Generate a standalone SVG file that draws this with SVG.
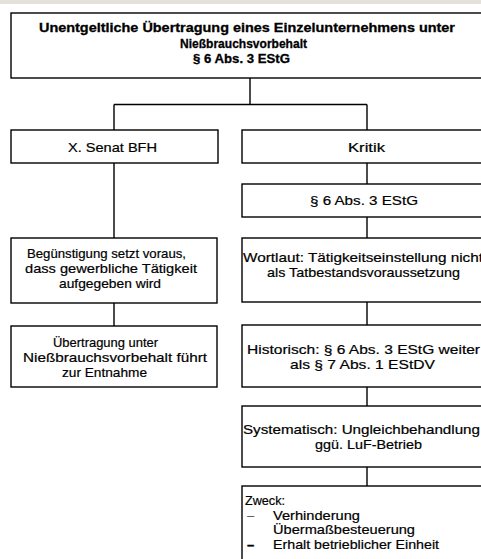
<svg xmlns="http://www.w3.org/2000/svg" width="481" height="559" viewBox="0 0 481 559">
<style>
.bg{fill:#ffffff}
.band{fill:#e4e0da}
.box{fill:#ffffff;stroke:#000;stroke-width:1.4}
.con{stroke:#000;stroke-width:1.4;fill:none}
text{font-family:"Liberation Sans",Arial,sans-serif;font-size:13px;fill:#000;stroke:#000;stroke-width:0.2}
.b{font-weight:bold;stroke-width:0.3}
.lt{fill:#555;stroke:none}
</style>
<rect class="bg" x="0" y="0" width="481" height="559"/>
<rect class="band" x="0" y="0" width="481" height="4"/>
<g id="connectors">
<path class="con" d="M250,78V104.5M114,104.5H367M114,104.5V130M367,104.5V130"/>
<path class="con" d="M114,163V238M114,303V326"/>
<path class="con" d="M367,163V184M367,217V238M367,302V325M367,387V406M367,467V486"/>
</g>
<g id="root">
<rect class="box" x="11" y="13" width="480" height="65"/>
<text class="b" x="39" y="32" textLength="416" lengthAdjust="spacingAndGlyphs">Unentgeltliche Übertragung eines Einzelunternehmens unter</text>
<text class="b" x="180" y="47.5" textLength="127" lengthAdjust="spacingAndGlyphs">Nießbrauchsvorbehalt</text>
<text class="b" x="193" y="63" textLength="97" lengthAdjust="spacingAndGlyphs">§ 6 Abs. 3 EStG</text>
</g>
<g id="senat">
<rect class="box" x="11" y="130" width="207" height="33"/>
<text x="68" y="151.5" textLength="89" lengthAdjust="spacingAndGlyphs">X. Senat BFH</text>
</g>
<g id="kritik">
<rect class="box" x="242" y="130" width="250" height="33"/>
<text x="348" y="151.5" textLength="37" lengthAdjust="spacingAndGlyphs">Kritik</text>
</g>
<g id="estg">
<rect class="box" x="242" y="184" width="250" height="33"/>
<text x="310" y="205" textLength="108" lengthAdjust="spacingAndGlyphs">§ 6 Abs. 3 EStG</text>
</g>
<g id="beguenstigung">
<rect class="box" x="11" y="238" width="206" height="65"/>
<text x="27" y="258" textLength="159" lengthAdjust="spacingAndGlyphs">Begünstigung setzt voraus,</text>
<text x="25" y="273" textLength="172" lengthAdjust="spacingAndGlyphs">dass gewerbliche Tätigkeit</text>
<text x="59" y="288" textLength="102" lengthAdjust="spacingAndGlyphs">aufgegeben wird</text>
</g>
<g id="wortlaut">
<rect class="box" x="242" y="238" width="250" height="64"/>
<text x="243" y="262" textLength="240" lengthAdjust="spacingAndGlyphs">Wortlaut: Tätigkeitseinstellung nicht</text>
<text x="267" y="277" textLength="193" lengthAdjust="spacingAndGlyphs">als Tatbestandsvoraussetzung</text>
</g>
<g id="uebertragung">
<rect class="box" x="11" y="326" width="206" height="61"/>
<text x="53" y="346.5" textLength="105" lengthAdjust="spacingAndGlyphs">Übertragung unter</text>
<text x="23" y="361.5" textLength="184" lengthAdjust="spacingAndGlyphs">Nießbrauchsvorbehalt führt</text>
<text x="62" y="376.5" textLength="85" lengthAdjust="spacingAndGlyphs">zur Entnahme</text>
</g>
<g id="historisch">
<rect class="box" x="242" y="325" width="250" height="62"/>
<text x="247" y="353.5" textLength="233" lengthAdjust="spacingAndGlyphs">Historisch: § 6 Abs. 3 EStG weiter</text>
<text x="290" y="368.5" textLength="145" lengthAdjust="spacingAndGlyphs">als § 7 Abs. 1 EStDV</text>
</g>
<g id="systematisch">
<rect class="box" x="242" y="406" width="250" height="61"/>
<text x="243" y="433.5" textLength="237" lengthAdjust="spacingAndGlyphs">Systematisch: Ungleichbehandlung</text>
<text x="315" y="448.5" textLength="107" lengthAdjust="spacingAndGlyphs">ggü. LuF-Betrieb</text>
</g>
<g id="zweck">
<rect class="box" x="242" y="486" width="250" height="90"/>
<text x="245" y="505" textLength="40" lengthAdjust="spacingAndGlyphs">Zweck:</text>
<text class="lt" x="247" y="519.5">–</text>
<text x="273" y="519.5" textLength="87" lengthAdjust="spacingAndGlyphs">Verhinderung</text>
<text x="273" y="534" textLength="142" lengthAdjust="spacingAndGlyphs">Übermaßbesteuerung</text>
<text class="b" x="247" y="548.5">–</text>
<text x="273" y="548.5" textLength="166" lengthAdjust="spacingAndGlyphs">Erhalt betrieblicher Einheit</text>
</g>
</svg>
